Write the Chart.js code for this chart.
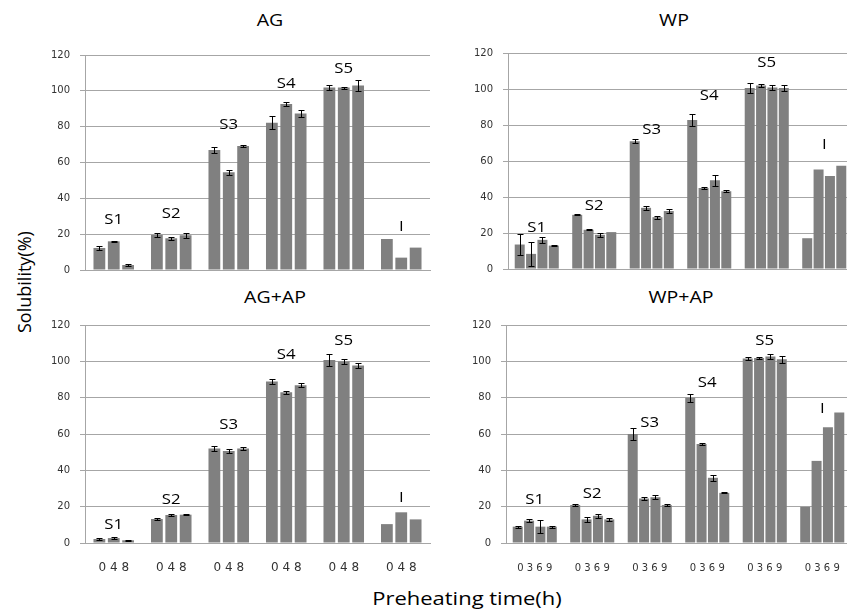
<!DOCTYPE html>
<html>
<head>
<meta charset="utf-8">
<script src="https://cdn.jsdelivr.net/npm/chart.js@4.4.0/dist/chart.umd.min.js"></script>
<style>
body { margin:0; width:847px; height:610px; overflow:hidden; background:#fff; position:relative; font-family:'Open Sans', sans-serif; color:#000; }
canvas { position:absolute; }
.lbl { position:absolute; white-space:nowrap; text-align:center; transform-origin:center; }
.ttl { width:100px; font-size:16px; line-height:22px; transform:scaleX(1.22); }
.ytitle { left:12px; top:222px; width:24px; height:120px; line-height:24px; font-size:18px; writing-mode:vertical-rl; transform:rotate(180deg); }
</style>
</head>
<body>
<div class="lbl ttl" style="left:220px;top:9px">AG</div>
<div class="lbl ttl" style="left:624px;top:9px">WP</div>
<div class="lbl ttl" style="left:225px;top:286px">AG+AP</div>
<div class="lbl ttl" style="left:631px;top:286px">WP+AP</div>
<div class="lbl ytitle">Solubility(%)</div>
<div class="lbl" style="left:367px;top:586px;width:200px;line-height:24px;font-size:18px;transform:scaleX(1.22)">Preheating time(h)</div>

<canvas id="cAG" width="440" height="290" style="left:0;top:0"></canvas>
<canvas id="cWP" width="440" height="290" style="left:424px;top:0"></canvas>
<canvas id="cAGAP" width="440" height="320" style="left:0;top:290px"></canvas>
<canvas id="cWPAP" width="440" height="320" style="left:424px;top:290px"></canvas>

<script>
const groups = ['S1', 'S2', 'S3', 'S4', 'S5', 'I'];
const agTimes = ['0', '4', '8'];
const wpTimes = ['0', '3', '6', '9'];
const yMin = 0, yMax = 120, yStep = 20;

// AG
const ag0 = [12.3, 19.6, 67.0, 82.2, 101.8, 17.3];
const ag4 = [16.0, 17.7, 54.5, 92.7, 101.8, 6.9];
const ag8 = [2.8, 19.4, 69.2, 87.4, 103.0, 12.5];
const agErr0 = [1.2, 1.1, 1.7, 3.7, 1.2, null];
const agErr4 = [0.3, 0.7, 1.5, 1.2, 0.6, null];
const agErr8 = [0.3, 1.3, 0.8, 1.9, 3.0, null];
const agLabelY = [28, 31, 81, 104, 112, 24];

// WP
const wp0 = [13.6, 30.1, 71.0, 82.8, 100.5, 17.1];
const wp3 = [8.4, 21.8, 34.0, 45.0, 102.0, 55.3];
const wp6 = [16.2, 19.0, 28.8, 49.3, 100.8, 51.7];
const wp9 = [13.0, 20.5, 32.2, 43.2, 100.5, 57.3];
const wpErr0 = [5.7, 0.3, 1.0, 3.4, 2.7, null];
const wpErr3 = [6.6, 0.3, 1.0, 0.6, 0.8, null];
const wpErr6 = [1.5, 1.0, 0.8, 3.0, 1.3, null];
const wpErr9 = [0.3, null, 1.0, 0.5, 1.5, null];
const wpLabelY = [23, 35, 77, 96, 114.5, 69];

// AG+AP
const agap0 = [2.2, 13.2, 52.0, 88.9, 100.8, 10.4];
const agap4 = [2.7, 15.4, 50.6, 83.0, 99.9, 16.9];
const agap8 = [1.5, 15.6, 52.0, 86.8, 97.7, 13.0];
const agapErr0 = [0.3, 0.3, 1.2, 1.2, 3.5, null];
const agapErr4 = [0.5, 0.8, 1.2, 0.8, 1.2, null];
const agapErr8 = [0.3, 0.4, 0.6, 1.0, 1.2, null];
const agapLabelY = [9.7, 23.8, 65, 103.5, 111, 24.7];

// WP+AP
const wpap0 = [9.0, 20.9, 60.0, 80.0, 101.5, 19.9];
const wpap3 = [12.3, 13.0, 24.5, 54.5, 101.9, 45.2];
const wpap6 = [9.0, 15.0, 25.2, 35.9, 102.6, 63.7];
const wpap9 = [9.0, 13.0, 20.9, 27.6, 101.2, 71.9];
const wpapErr0 = [0.5, 0.5, 3.5, 2.2, 0.8, null];
const wpapErr3 = [0.8, 1.2, 0.8, 0.5, 0.6, null];
const wpapErr6 = [3.7, 1.0, 1.0, 1.5, 1.5, null];
const wpapErr9 = [0.5, 1.0, 0.5, 0.3, 2.0, null];
const wpapLabelY = [23.8, 27, 66, 88, 111, 73.5];

const barColor = '#808080';
const gridColor = '#a6a6a6';

const errorBars = {
    id: 'errorBars',
    afterDatasetsDraw(chart) {
        const ctx = chart.ctx, y = chart.scales.y;
        ctx.save();
        ctx.strokeStyle = '#000';
        ctx.lineWidth = 1;
        chart.data.datasets.forEach((ds, i) => {
            chart.getDatasetMeta(i).data.forEach((bar, j) => {
                const e = ds.errors[j];
                if (!e) return;
                const top = Math.round(y.getPixelForValue(ds.data[j] + e)) + 0.5;
                const bot = Math.round(y.getPixelForValue(ds.data[j] - e)) + 0.5;
                const x = Math.round(bar.x) + 0.5;
                ctx.beginPath();
                ctx.moveTo(x, top); ctx.lineTo(x, bot);
                ctx.moveTo(x - 3, top); ctx.lineTo(x + 3, top);
                ctx.moveTo(x - 3, bot); ctx.lineTo(x + 3, bot);
                ctx.stroke();
            });
        });
        ctx.restore();
    }
};

function groupLabels(labelY) {
    return {
        id: 'groupLabels',
        afterDatasetsDraw(chart) {
            const ctx = chart.ctx, x = chart.scales.x, y = chart.scales.y;
            ctx.save();
            ctx.font = '14px "Open Sans"';
            ctx.fillStyle = '#000';
            ctx.textAlign = 'center';
            ctx.textBaseline = 'middle';
            groups.forEach((g, i) => {
                ctx.save();
                ctx.translate(x.getPixelForValue(i), y.getPixelForValue(labelY[i]));
                ctx.scale(1.2, 1);
                ctx.fillText(g, 0, 0);
                ctx.restore();
            });
            ctx.restore();
        }
    };
}

function makePanel(id, times, series, errors, labelY, o) {
    const datasets = series.map((s, i) => ({
        label: times[i] + 'h',
        data: s,
        errors: errors[i],
        backgroundColor: barColor,
        borderWidth: 0,
        categoryPercentage: o.catPct,
        barPercentage: o.barPct
    }));
    return new Chart(document.getElementById(id), {
        type: 'bar',
        data: { labels: groups, datasets: datasets },
        options: {
            responsive: false, animation: false,
            layout: { padding: { top: o.top, bottom: o.bottom, right: o.right, left: 0 } },
            plugins: { legend: { display: false }, tooltip: { enabled: false }, title: { display: false } },
            scales: {
                x: {
                    grid: { display: false },
                    border: { color: gridColor },
                    ticks: {
                        display: o.showTimes,
                        padding: o.tickPad,
                        color: '#333',
                        font: { family: 'DejaVu Sans', size: o.timeSize },
                        callback: () => times.join(' ')
                    }
                },
                y: {
                    min: yMin, max: yMax,
                    afterFit: s => { s.width = o.yW; },
                    grid: { color: gridColor, tickLength: 5 },
                    border: { color: gridColor },
                    ticks: { stepSize: yStep, padding: 10, color: '#333', font: { family: 'DejaVu Sans', size: 10 } }
                }
            }
        },
        plugins: [errorBars, groupLabels(labelY)]
    });
}

makePanel('cAG', agTimes, [ag0, ag4, ag8], [agErr0, agErr4, agErr8], agLabelY,
    { yW: 85, top: 55, bottom: 12, right: 10, showTimes: false, catPct: 0.75, barPct: 0.82 });
makePanel('cWP', wpTimes, [wp0, wp3, wp6, wp9], [wpErr0, wpErr3, wpErr6, wpErr9], wpLabelY,
    { yW: 84, top: 53, bottom: 13, right: 11, showTimes: false, catPct: 0.79, barPct: 0.88 });
makePanel('cAGAP', agTimes, [agap0, agap4, agap8], [agapErr0, agapErr4, agapErr8], agapLabelY,
    { yW: 85, top: 35, bottom: 25, right: 10, showTimes: true, tickPad: 9.8, timeSize: 12, catPct: 0.75, barPct: 0.82 });
makePanel('cWPAP', wpTimes, [wpap0, wpap3, wpap6, wpap9], [wpapErr0, wpapErr3, wpapErr6, wpapErr9], wpapLabelY,
    { yW: 82, top: 35, bottom: 25, right: 13, showTimes: true, tickPad: 11, timeSize: 10, catPct: 0.79, barPct: 0.88 });
</script>
</body>
</html>
